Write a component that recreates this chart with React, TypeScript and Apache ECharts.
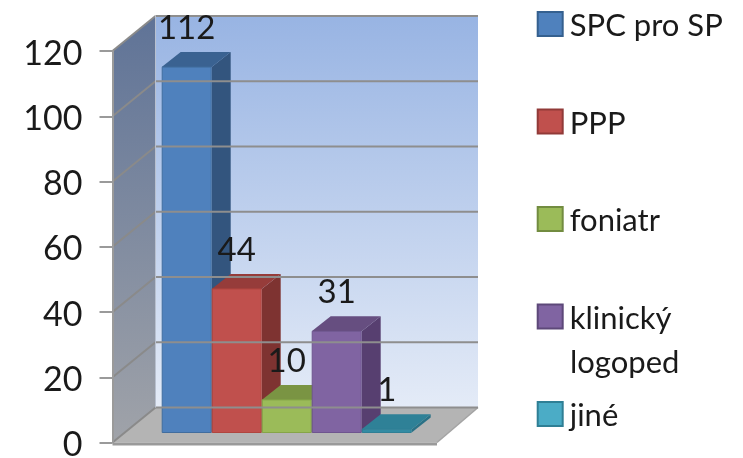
import React, { useEffect, useRef } from "react";
import * as echarts from "echarts";

const categories = ["SPC pro SP", "PPP", "foniatr", "klinický logoped", "jiné"];
const legendLabels = ["SPC pro SP", "PPP", "foniatr", "klinický", "jiné"];
const legendExtraLine = "logoped";
const values = [112, 44, 10, 31, 1];
const yTicks = [0, 20, 40, 60, 80, 100, 120];
const frontColors = ["#4f81bd", "#c0504d", "#9bbb59", "#8064a2", "#338ba3"];
const edgeColors = ["#416d9e", "#b0453f", "#86a548", "#6f558f", "#2f7f95"];
const topColors = ["#3a6291", "#963c3a", "#7a9443", "#664e80", "#2f8197"];
const sideColors = ["#33557e", "#7e3331", "#6b8438", "#573f70", "#2a7186"];
const legendFill = ["#4f81bd", "#c0504d", "#9bbb59", "#8064a2", "#4bacc6"];
const legendBorder = ["#35608f", "#913a38", "#728c40", "#5d4879", "#2f7f95"];

const FONT = "Lato";
const WALL_DX = 43;
const WALL_DY = -35;
const BAR_DX = 19;
const BAR_DY = -15;
const BASE_DY = -10;
const FLOOR_RIGHT = 437;

const poly = (points: number[][], style: any, z2 = 0) => ({
  type: "polygon",
  z2,
  shape: { points },
  style,
});

const seg = (a: number[], b: number[], stroke: string, lineWidth: number, z2 = 1) => ({
  type: "line",
  z2,
  shape: { x1: a[0], y1: a[1], x2: b[0], y2: b[1] },
  style: { stroke, lineWidth },
});

function renderWalls(_params: any, api: any) {
  const [, y0] = api.coord([0, 0]);
  const [, yTop] = api.coord([0, 120]);
  const xl = 112.5;
  const xb = xl + WALL_DX;
  const xr = 478;
  const children: any[] = [
    poly(
      [[xb, yTop + WALL_DY], [xr, yTop + WALL_DY], [xr, y0 + WALL_DY], [xb, y0 + WALL_DY]],
      {
        fill: new echarts.graphic.LinearGradient(0, 0, 0, 1, [
          { offset: 0, color: "#98b4e3" },
          { offset: 1, color: "#e4ebf7" },
        ]),
      }
    ),
    poly(
      [[xl, y0], [xb, y0 + WALL_DY], [xb, yTop + WALL_DY], [xl, yTop]],
      {
        fill: new echarts.graphic.LinearGradient(0, 0, 0, 1, [
          { offset: 0, color: "#5f7397" },
          { offset: 1, color: "#a0a3a9" },
        ]),
      }
    ),
    poly(
      [[xl, y0], [FLOOR_RIGHT, y0], [xr, y0 + WALL_DY], [xb, y0 + WALL_DY]],
      { fill: "#b4b4b4" }
    ),
    poly(
      [[xl, y0], [FLOOR_RIGHT, y0], [FLOOR_RIGHT, y0 + 3], [xl, y0 + 3]],
      { fill: "#9a9a9a" }
    ),
    seg([FLOOR_RIGHT, y0], [xr, y0 + WALL_DY], "#a4a4a4", 1.5),
  ];
  yTicks.forEach((t) => {
    const [, y] = api.coord([0, t]);
    children.push(seg([xl, y], [xb, y + WALL_DY], "#8a8a8a", 2));
    children.push(seg([xb, y + WALL_DY], [xr, y + WALL_DY], "#8e8e8e", 2));
  });
  children.push(seg([xb, yTop + WALL_DY], [xb, y0 + WALL_DY], "#b8c0cf", 1));
  return { type: "group", children };
}

function renderBar(params: any, api: any) {
  const idx = api.value(0);
  const v = api.value(1);
  const [cx, yZero] = api.coord([idx, 0]);
  const [, yVal] = api.coord([idx, v]);
  const w = api.size([1, 0])[0];
  const xa = cx - w / 2;
  const xb = cx + w / 2;
  const yb = yZero + BASE_DY;
  const yt = yVal + BASE_DY;
  const i = params.seriesIndex - 1;
  return {
    type: "group",
    children: [
      poly(
        [[xb, yb], [xb + BAR_DX, yb + BAR_DY], [xb + BAR_DX, yt + BAR_DY], [xb, yt]],
        { fill: sideColors[i] }
      ),
      poly(
        [[xa, yt], [xb, yt], [xb + BAR_DX, yt + BAR_DY], [xa + BAR_DX, yt + BAR_DY]],
        { fill: topColors[i] }
      ),
      {
        type: "rect",
        shape: { x: xa + 0.5, y: yt, width: w - 1, height: yb - yt },
        style: { fill: frontColors[i], stroke: edgeColors[i], lineWidth: 1 },
      },
      {
        type: "text",
        z2: 100,
        style: {
          x: cx,
          y: yt - 41,
          text: String(v),
          align: "center",
          verticalAlign: "middle",
          font: `33px ${FONT}`,
          fill: "#1a1a1a",
        },
      },
    ],
  };
}

export default function App() {
  const ref = useRef<HTMLDivElement>(null);

  useEffect(() => {
    const chart = echarts.init(ref.current!, undefined, { renderer: "svg" });
    chart.setOption({
      animation: false,
      backgroundColor: "#ffffff",
      grid: { left: 161.7, width: 250, top: 51, height: 391.5, outerBoundsMode: "none" },
      xAxis: { type: "category", data: categories, show: false },
      yAxis: {
        type: "value",
        min: 0,
        max: 120,
        interval: 20,
        offset: 49.2,
        z: 5,
        axisLine: { show: true, lineStyle: { color: "#9a9a9a", width: 2 } },
        axisTick: { show: true, length: 13, lineStyle: { color: "#9a9a9a", width: 2 } },
        axisLabel: { margin: 30, fontFamily: FONT, fontSize: 34, color: "#1a1a1a", lineHeight: 28 },
        splitLine: { show: false },
      },
      legend: {
        orient: "vertical",
        left: 536.7,
        top: 8.5,
        padding: 0,
        itemWidth: 25,
        itemHeight: 24,
        itemGap: 66.5,
        icon: "rect",
        textStyle: {
          fontFamily: FONT,
          fontSize: 31,
          color: "#1a1a1a",
          lineHeight: 24,
          padding: [0, 0, 0, 2],
        },
        formatter: (name: string) => legendLabels[categories.indexOf(name)],
        data: categories.map((name, i) => ({
          name,
          itemStyle: { color: legendFill[i], borderColor: legendBorder[i], borderWidth: 2 },
        })),
      },
      graphic: [
        {
          type: "text",
          left: 570,
          top: 345,
          style: { text: legendExtraLine, font: `31px ${FONT}`, fill: "#1a1a1a" },
        },
      ],
      series: [
        {
          type: "custom",
          name: "walls",
          silent: true,
          data: [[0, 0]],
          encode: { x: 0, y: 1 },
          renderItem: renderWalls,
        },
        ...categories.map((name, i) => ({
          type: "custom",
          name,
          silent: true,
          data: [[i, values[i]]],
          encode: { x: 0, y: 1 },
          renderItem: renderBar,
        })),
      ],
    });
    return () => chart.dispose();
  }, []);

  return (
    <div
      ref={ref}
      style={{ position: "fixed", left: 0, top: 0, width: 743, height: 458, filter: "blur(0.6px)" }}
    />
  );
}
